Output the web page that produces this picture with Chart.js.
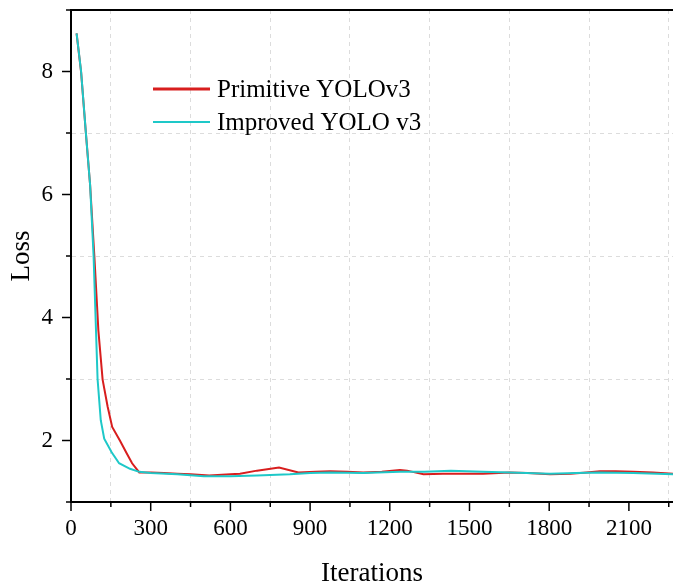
<!DOCTYPE html>
<html>
<head>
<meta charset="utf-8">
<script src="https://cdn.jsdelivr.net/npm/chart.js@4"></script>
<style>
  body { margin: 0; background: #fff; }
  canvas { display: block; }
</style>
</head>
<body>
<canvas id="loss-chart" width="673" height="585"></canvas>
<script>
// values
const seriesNames = ['Primitive YOLOv3', 'Improved YOLO v3'];
const seriesColors = ['#d81e1e', '#1ec8c8'];

const iterPrimitive = [21, 38, 56, 72, 88, 103, 119, 138, 155, 184, 210, 230, 257, 300, 350, 400, 450, 520, 600, 636, 700, 783, 856, 920, 975, 1040, 1100, 1170, 1238, 1265, 1327, 1400, 1480, 1551, 1651, 1720, 1803, 1880, 1940, 1991, 2050, 2116, 2190, 2266];
const lossPrimitive = [8.62, 7.99, 7.0, 6.15, 4.99, 3.79, 2.99, 2.55, 2.22, 2.0, 1.79, 1.63, 1.48, 1.48, 1.47, 1.46, 1.45, 1.43, 1.45, 1.46, 1.51, 1.56, 1.48, 1.49, 1.50, 1.49, 1.48, 1.49, 1.52, 1.51, 1.45, 1.46, 1.46, 1.46, 1.48, 1.47, 1.45, 1.46, 1.48, 1.50, 1.50, 1.49, 1.48, 1.46];

const iterImproved = [21, 38, 56, 72, 85, 94, 100, 112, 125, 153, 181, 222, 257, 300, 400, 500, 600, 700, 824, 900, 975, 1100, 1238, 1330, 1430, 1551, 1651, 1803, 1900, 1991, 2116, 2266];
const lossImproved = [8.62, 8.0, 7.0, 6.15, 5.0, 3.8, 3.0, 2.33, 2.03, 1.81, 1.63, 1.54, 1.49, 1.47, 1.45, 1.42, 1.42, 1.43, 1.45, 1.47, 1.48, 1.47, 1.49, 1.49, 1.51, 1.49, 1.48, 1.46, 1.47, 1.48, 1.47, 1.45];

const xMin = 0, xMax = 2266, xStep = 150, xLabelStep = 300;
const yMin = 1, yMax = 9, yStep = 1, yLabelStep = 2;

const toPoints = (xs, ys) => xs.map((x, i) => ({ x: x, y: ys[i] }));
const serif = '"Liberation Serif", "Times New Roman", serif';

// major/minor tick marks, top frame line and the inside legend
const framePlugin = {
    id: 'frame',
    afterDraw(chart) {
        const ctx = chart.ctx;
        const area = chart.chartArea;
        const xs = chart.scales.x;
        const ys = chart.scales.y;
        ctx.save();
        ctx.strokeStyle = '#000';
        ctx.lineWidth = 2;
        ctx.beginPath();
        ctx.moveTo(area.left - 1, area.top);
        ctx.lineTo(area.right, area.top);
        ctx.stroke();

        ctx.lineWidth = 1.5;
        xs.ticks.forEach(t => {
            const px = xs.getPixelForValue(t.value);
            const len = t.value % xLabelStep === 0 ? 9 : 5;
            ctx.beginPath();
            ctx.moveTo(px, area.bottom);
            ctx.lineTo(px, area.bottom + len);
            ctx.stroke();
        });
        ys.ticks.forEach(t => {
            const py = ys.getPixelForValue(t.value);
            const len = t.value % yLabelStep === 0 ? 9 : 5;
            ctx.beginPath();
            ctx.moveTo(area.left, py);
            ctx.lineTo(area.left - len, py);
            ctx.stroke();
        });

        // legend
        const lx = 153, ly = 89, row = 33;
        chart.data.datasets.forEach((ds, i) => {
            const y = ly + i * row;
            ctx.strokeStyle = ds.borderColor;
            ctx.lineWidth = i === 0 ? 3 : 2;
            ctx.beginPath();
            ctx.moveTo(lx, y);
            ctx.lineTo(lx + 57, y);
            ctx.stroke();
            ctx.fillStyle = '#000';
            ctx.font = '25px ' + serif;
            ctx.textBaseline = 'middle';
            ctx.textAlign = 'left';
            ctx.fillText(ds.label, lx + 64, y + 1);
        });
        ctx.restore();
    }
};

const gridColor = (ctx, labelStep) => {
    const v = ctx.tick ? ctx.tick.value : 0;
    return v % labelStep === 0 ? 'rgba(0,0,0,0)' : '#dcdcdc';
};

const noOverhang = s => {
    s.paddingTop = 0;
    s.paddingBottom = 0;
    s.paddingLeft = 0;
    s.paddingRight = 0;
};

new Chart(document.getElementById('loss-chart').getContext('2d'), {
    type: 'line',
    data: {
        datasets: [
            {
                label: seriesNames[0],
                data: toPoints(iterPrimitive, lossPrimitive),
                borderColor: seriesColors[0],
                borderWidth: 2,
                pointRadius: 0,
                tension: 0,
                order: 1
            },
            {
                label: seriesNames[1],
                data: toPoints(iterImproved, lossImproved),
                borderColor: seriesColors[1],
                borderWidth: 2,
                pointRadius: 0,
                tension: 0,
                order: 0
            }
        ]
    },
    options: {
        responsive: false,
        animation: false,
        layout: { padding: { top: 10, right: 0, left: 0, bottom: 0 } },
        plugins: {
            legend: { display: false },
            tooltip: { enabled: false }
        },
        scales: {
            x: {
                type: 'linear',
                min: xMin,
                max: xMax,
                afterFit: s => { s.height = 83; noOverhang(s); },
                afterBuildTicks: s => {
                    const arr = [];
                    for (let v = xMin; v <= xMax; v += xStep) arr.push({ value: v });
                    s.ticks = arr;
                },
                ticks: {
                    stepSize: xStep,
                    autoSkip: false,
                    maxRotation: 0,
                    padding: 13,
                    color: '#000',
                    font: { family: serif, size: 23 },
                    callback: v => (v % xLabelStep === 0 ? v : '')
                },
                grid: {
                    drawTicks: false,
                    lineWidth: 1,
                    color: c => gridColor(c, xLabelStep)
                },
                border: { display: true, color: '#000', width: 2, dash: [4, 4] },
                title: {
                    display: true,
                    text: 'Iterations',
                    color: '#000',
                    font: { family: serif, size: 27, lineHeight: 0.8 },
                    padding: 0
                }
            },
            y: {
                type: 'linear',
                min: yMin,
                max: yMax,
                afterFit: s => { s.width = 71; noOverhang(s); },
                ticks: {
                    stepSize: yStep,
                    autoSkip: false,
                    padding: 18,
                    color: '#000',
                    font: { family: serif, size: 23 },
                    callback: v => (v % yLabelStep === 0 ? v : '')
                },
                grid: {
                    drawTicks: false,
                    lineWidth: 1,
                    color: c => gridColor(c, yLabelStep)
                },
                border: { display: true, color: '#000', width: 2, dash: [4, 4] },
                title: {
                    display: true,
                    text: 'Loss',
                    color: '#000',
                    font: { family: serif, size: 27, lineHeight: 1.2 },
                    padding: { top: 6, bottom: 0 }
                }
            }
        }
    },
    plugins: [framePlugin]
});
</script>
</body>
</html>
